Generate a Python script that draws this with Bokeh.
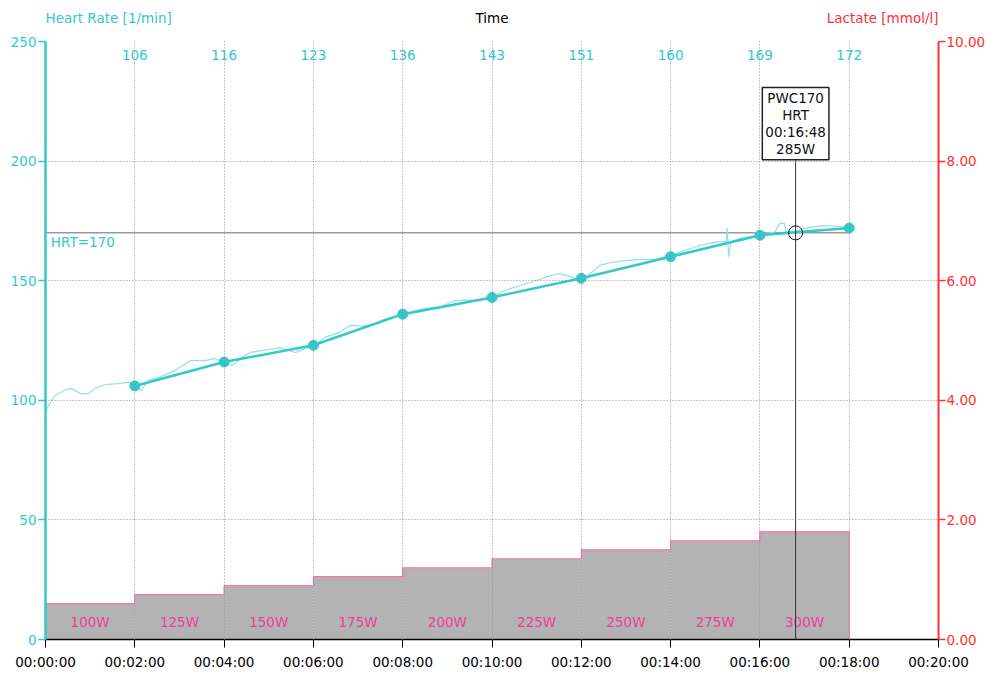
from bokeh.plotting import figure
from bokeh.layouts import column
from bokeh.models import Range1d, LinearAxis, FixedTicker, NumeralTickFormatter, Label
from bokeh.core.properties import value
from bokeh.embed import file_html
from bokeh.resources import INLINE

# ---------------- data ----------------
time_ticks = [0, 2, 4, 6, 8, 10, 12, 14, 16, 18, 20]  # minutes
time_tick_labels = ["00:00:00", "00:02:00", "00:04:00", "00:06:00", "00:08:00", "00:10:00",
                    "00:12:00", "00:14:00", "00:16:00", "00:18:00", "00:20:00"]
hr_ticks = [0, 50, 100, 150, 200, 250]
lactate_ticks = [0, 2, 4, 6, 8, 10]

header_texts = ["Heart Rate [1/min]", "Time", "Lactate [mmol/l]"]

step_start = [0, 2, 4, 6, 8, 10, 12, 14, 16]          # minutes
step_end = [2, 4, 6, 8, 10, 12, 14, 16, 18]
step_power = [100, 125, 150, 175, 200, 225, 250, 275, 300]  # W

step_hr_time = [2, 4, 6, 8, 10, 12, 14, 16, 18]
step_hr = [106, 116, 123, 136, 143, 151, 160, 169, 172]

raw_sec = [0, 4, 13, 24, 34, 47, 58, 67, 80, 98, 114, 128, 138, 154, 174, 195, 215, 228,
           242, 251, 262, 275, 291, 315, 336, 349, 362, 376, 396, 409, 426, 443, 456, 477,
           490, 510, 530, 550, 564, 581, 600, 617, 638, 658, 678, 691, 707, 721, 732, 745,
           761, 779, 799, 819, 839, 859, 879, 899, 915, 916, 918, 921, 933, 953, 966, 980,
           987, 993, 995, 1007, 1027, 1047, 1067, 1079]
raw_hr = [95.0, 97.8, 102.0, 104.0, 105.0, 102.8, 102.8, 105.0, 106.6, 107.0, 107.6, 104.0,
          108.3, 109.7, 112.5, 116.6, 116.6, 117.5, 115.4, 114.5, 117.5, 120.0, 120.8, 122.0,
          120.0, 121.6, 123.0, 126.4, 128.5, 131.3, 131.0, 132.0, 134.0, 135.5, 136.8, 138.4,
          139.0, 141.7, 142.0, 141.7, 143.0, 145.9, 148.0, 150.0, 152.0, 153.0, 151.5, 150.0,
          153.0, 156.4, 157.7, 158.4, 158.9, 158.8, 160.5, 162.6, 164.7, 166.0, 166.4, 172.0,
          160.0, 166.5, 167.6, 168.5, 169.7, 170.3, 174.0, 174.0, 170.5, 170.6, 172.4, 173.0,
          172.7, 172.2]

hrt = 170
pwc_sec = 1008
pwc_watt = 285

# ---------------- style ----------------
FONT = "DejaVu Sans"
FS = "13.5px"
CYAN = "#33c9c9"
CYAN_LIGHT = "#8fe3df"
RED = "#ff3030"
PINK = "#ee3f96"
PINK_LINE = "#ff6fb0"
BAR = "#b3b3b3"
GRID = "#8c8c8c"
LEFT, RIGHT, FRAME_W = 45, 46, 893

x_range = Range1d(0, 20)

# ---------------- header ----------------
h = figure(frame_width=FRAME_W, frame_height=31, x_range=x_range, y_range=Range1d(0, 1),
           output_backend="svg", toolbar_location=None,
           min_border_left=LEFT, min_border_right=RIGHT, min_border_top=0, min_border_bottom=0)
h.axis.visible = False
h.grid.visible = False
h.outline_line_color = None
for x, txt, al, col in zip([0, 10, 20], header_texts, ["left", "center", "right"], [CYAN, "black", RED]):
    h.text(x=[x], y=[0.42], text=[txt], text_align=al, text_baseline="middle",
           text_color=col, text_font=value(FONT), text_font_size=FS)

# ---------------- main ----------------
p = figure(frame_width=FRAME_W, frame_height=598,
           x_range=x_range, y_range=Range1d(0, 250),
           output_backend="svg", toolbar_location=None,
           min_border_left=LEFT, min_border_right=RIGHT, min_border_top=10, min_border_bottom=30)
p.outline_line_color = None
p.extra_y_ranges = {"lactate": Range1d(0, 10), "power": Range1d(0, 250 / 0.15)}

xa = p.xaxis[0]
xa.ticker = FixedTicker(ticks=time_ticks)
xa.major_label_overrides = {t: l for t, l in zip(time_ticks, time_tick_labels)}
xa.axis_line_color = "black"
xa.axis_line_width = 1.5
xa.major_tick_line_color = "black"
xa.major_tick_out = 8
xa.major_tick_in = 0
xa.minor_tick_line_color = None
xa.major_label_standoff = 6
xa.major_label_text_font = FONT
xa.major_label_text_font_size = FS
xa.major_label_text_color = "black"

ya = p.yaxis[0]
ya.ticker = FixedTicker(ticks=hr_ticks)
ya.axis_line_color = CYAN
ya.axis_line_width = 2.5
ya.major_tick_line_color = CYAN
ya.major_tick_line_width = 1.5
ya.major_tick_out = 7
ya.major_tick_in = 0
ya.minor_tick_line_color = None
ya.major_label_standoff = 2
ya.major_label_text_font = FONT
ya.major_label_text_font_size = FS
ya.major_label_text_color = CYAN

ra = LinearAxis(y_range_name="lactate", ticker=FixedTicker(ticks=lactate_ticks),
                formatter=NumeralTickFormatter(format="0.00"))
ra.axis_line_color = RED
ra.axis_line_width = 2
ra.major_tick_line_color = RED
ra.major_tick_line_width = 1.5
ra.major_tick_out = 7
ra.major_tick_in = 0
ra.minor_tick_line_color = None
ra.major_label_standoff = 1
ra.major_label_text_font = FONT
ra.major_label_text_font_size = FS
ra.major_label_text_color = RED
p.add_layout(ra, "right")

for g in (p.xgrid[0], p.ygrid[0]):
    g.grid_line_color = GRID
    g.grid_line_dash = "1 2"
    g.grid_line_width = 1
    g.level = "guide"

# power bars
p.quad(left=step_start, right=step_end, bottom=0, top=step_power,
       fill_color=BAR, line_color=None, y_range_name="power")
ox, oy = [], []
for s, e, w in zip(step_start, step_end, step_power):
    ox += [s, e]
    oy += [w, w]
ox.append(step_end[-1])
oy.append(0)
p.line(ox, oy, line_color=PINK_LINE, line_width=1.2, y_range_name="power")

mid = [(s + e) / 2 for s, e in zip(step_start, step_end)]
p.text(x=mid, y=[7.5] * len(mid), text=[f"{w}W" for w in step_power],
       text_align="center", text_baseline="middle", text_color=PINK,
       text_font=value(FONT), text_font_size=FS)

# HRT line
p.segment(x0=[0], x1=[step_end[-1]], y0=[hrt], y1=[hrt], line_color="#9a9a9a", line_width=1.5)
p.add_layout(Label(x=0.12, y=hrt - 4, text=f"HRT={hrt}", text_align="left", text_baseline="middle",
                   text_color=CYAN, text_font=FONT, text_font_size=FS))

# raw HR trace
p.line([s / 60 for s in raw_sec], raw_hr, line_color=CYAN_LIGHT, line_width=1.2)

# step HR
p.line(step_hr_time, step_hr, line_color=CYAN, line_width=2.5)
p.scatter(step_hr_time, step_hr, size=10, fill_color=CYAN, line_color=CYAN)

# top HR values
p.text(x=step_hr_time, y=[244.5] * len(step_hr_time), text=[str(v) for v in step_hr],
       text_align="center", text_baseline="middle", text_color=CYAN,
       text_font=value(FONT), text_font_size=FS)

# PWC170 marker
pwc_t = pwc_sec / 60
box_top = 230.8
p.segment(x0=[pwc_t], x1=[pwc_t], y0=[0], y1=[box_top], line_color="#333333", line_width=1)
p.scatter([pwc_t], [hrt], size=14, fill_color=None, line_color="#222222", line_width=1)
hh, mm, ss = pwc_sec // 3600, (pwc_sec % 3600) // 60, pwc_sec % 60
box_text = f"PWC{hrt}\nHRT\n{hh:02d}:{mm:02d}:{ss:02d}\n{pwc_watt}W"
p.add_layout(Label(x=pwc_t, y=box_top, text=box_text, text_align="center", text_baseline="top",
                   text_color="#111111", text_font=FONT, text_font_size=FS, text_line_height=1.05,
                   border_line_color="#222222", border_line_width=1.5,
                   background_fill_color="white", padding=3))

layout = column(h, p, spacing=0)
open("out.html", "w").write(file_html(layout, INLINE))
